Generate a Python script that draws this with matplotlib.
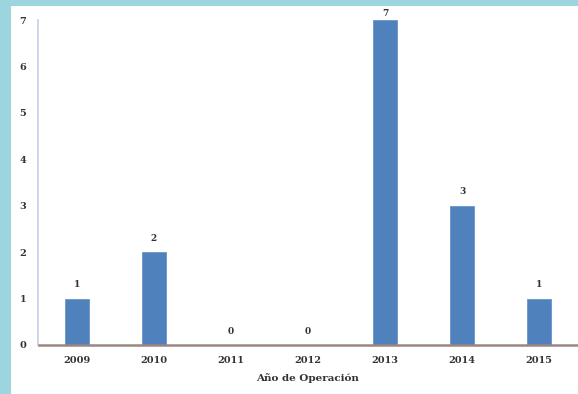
import matplotlib
matplotlib.use("Agg")
import matplotlib.pyplot as plt
from matplotlib.patches import Rectangle

# operaciones por año
years = ["2009", "2010", "2011", "2012", "2013", "2014", "2015"]
counts = [1, 2, 0, 0, 7, 3, 1]
yticks = [0, 1, 2, 3, 4, 5, 6, 7]

plt.rcParams["font.family"] = ["DejaVu Serif"]
plt.rcParams["font.weight"] = "bold"

fig = plt.figure(figsize=(5.78, 3.94), dpi=100)
fig.patch.set_facecolor("#9dd5df")
# panel blanco detrás del gráfico
fig.patches.append(Rectangle((11 / 578, 0), 1, 388 / 394, transform=fig.transFigure,
                             facecolor="white", edgecolor="none", zorder=-10))

ax = fig.add_axes([38.5 / 578, 49 / 394, 539 / 578, 325 / 394])
ax.set_facecolor("none")

x = range(len(years))
bars = ax.bar(x, counts, width=0.3, color="#4f81bd", edgecolor="#6a95c9", linewidth=0.6)

top = max(counts)
for xi, v in zip(x, counts):
    # la etiqueta del máximo queda pegada al borde superior
    off = 5 if v == top else 10
    ax.annotate(str(v), (xi, v), xytext=(0, off), textcoords="offset points",
                ha="center", va="center", fontsize=6.5, color="#333333")

ax.set_xlim(-0.5, len(years) - 0.5)
ax.set_ylim(0, 7)
ax.set_xticks(list(x))
ax.set_xticklabels(years)
ax.set_yticks(yticks)
ax.tick_params(axis="both", length=0, labelsize=7, colors="#333333")
ax.tick_params(axis="x", pad=8)
ax.tick_params(axis="y", pad=9)

ax.spines["top"].set_visible(False)
ax.spines["right"].set_visible(False)
ax.spines["left"].set_color("#c3cee6")
ax.spines["left"].set_linewidth(1.2)
ax.spines["bottom"].set_color("#9a8680")
ax.spines["bottom"].set_linewidth(1.8)

ax.set_xlabel("Año de Operación", fontsize=7.5, fontweight="bold", color="#333333", labelpad=6)

fig.savefig("out.png", dpi=100, facecolor=fig.get_facecolor())
